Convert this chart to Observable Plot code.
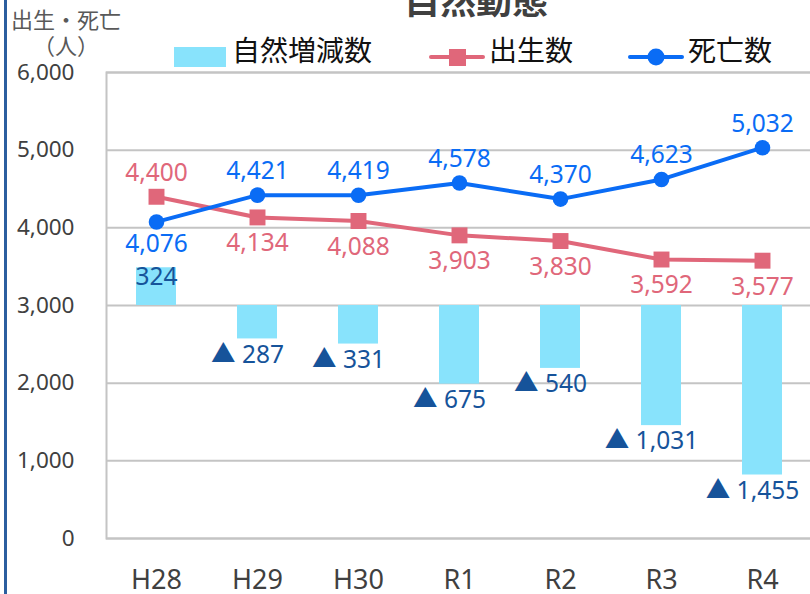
<!DOCTYPE html>
<html><head><meta charset="utf-8">
<script src="https://cdn.jsdelivr.net/npm/d3@7"></script>
<script src="https://cdn.jsdelivr.net/npm/@observablehq/plot@0.6"></script>
<style>
body{margin:0;background:#fff;}
#wrap{position:relative;width:810px;height:594px;overflow:hidden;font-family:"Noto Sans","Noto Sans CJK JP",sans-serif;}
#wrap > svg{position:absolute;left:0;top:0;}
#edge{position:absolute;left:4px;top:0;width:3px;height:594px;background:#2b5e9f;}
#over{position:absolute;left:0;top:0;pointer-events:none;}
</style></head>
<body>
<div id="wrap"><div id="edge"></div></div>
<script>
const years = ["H28","H29","H30","R1","R2","R3","R4"];
const births = [4400,4134,4088,3903,3830,3592,3577];
const deaths = [4076,4421,4419,4578,4370,4623,5032];
const natural = [324,-287,-331,-675,-540,-1031,-1455];
const yTicks = [0,1000,2000,3000,4000,5000,6000];
const primaryDomain = [0,6000];
const secondaryDomain = [-2000,2000]; // hidden axis used by the 自然増減数 bars
const birthsAbove = [true,false,false,false,false,false,false];
const deathsAbove = [false,true,true,true,true,true,true];

const toPrimary = v => primaryDomain[0] + (v - secondaryDomain[0]) / (secondaryDomain[1] - secondaryDomain[0]) * (primaryDomain[1] - primaryDomain[0]);
const fmt = d3.format(",");

const rows = years.map((y,i)=>({year:y, births:births[i], deaths:deaths[i], natural:natural[i], bAbove:birthsAbove[i], dAbove:deathsAbove[i]}));

const RED = "#e0677a", BLUE = "#0a6cf5", CYAN = "#88e3fc", NAVY = "#16539a", GRID = "#c4c4c4";
const FONT = '"Noto Sans","Noto Sans CJK JP",sans-serif';

const chart = Plot.plot({
  width: 810, height: 594,
  marginTop: 72, marginBottom: 56, marginLeft: 106, marginRight: -3,
  style: {fontFamily: FONT, background: "transparent", overflow: "visible"},
  x: {domain: years, paddingInner: 0.6, paddingOuter: 0.3, label: null},
  y: {domain: primaryDomain, label: null},
  marks: [
    Plot.gridY(yTicks, {stroke: GRID, strokeOpacity: 1, strokeWidth: 2}),
    Plot.frame({stroke: GRID, strokeWidth: 2}),
    Plot.barY(rows, {x: "year", y1: () => toPrimary(0), y2: d => toPrimary(d.natural), fill: CYAN}),
    Plot.axisY(yTicks, {tickSize: 0, tickPadding: 32, fontSize: 22.5, fill: "#404040", tickFormat: fmt, label: null}),
    Plot.axisX({tickSize: 0, tickPadding: 31, fontSize: 27, fill: "#404040", label: null}),
    Plot.line(rows, {x: "year", y: "births", stroke: RED, strokeWidth: 4}),
    Plot.dot(rows, {x: "year", y: "births", symbol: "square", r: 9, fill: RED}),
    Plot.line(rows, {x: "year", y: "deaths", stroke: BLUE, strokeWidth: 4}),
    Plot.dot(rows, {x: "year", y: "deaths", symbol: "circle", r: 7.8, fill: BLUE}),
    Plot.text(rows.filter(d=>d.bAbove), {x: "year", y: "births", text: d=>fmt(d.births), dy: -24, fill: RED, fontSize: 24.5}),
    Plot.text(rows.filter(d=>!d.bAbove), {x: "year", y: "births", text: d=>fmt(d.births), dy: 26, fill: RED, fontSize: 24.5}),
    Plot.text(rows.filter(d=>d.dAbove), {x: "year", y: "deaths", text: d=>fmt(d.deaths), dy: -24, fill: BLUE, fontSize: 24.5}),
    Plot.text(rows.filter(d=>!d.dAbove), {x: "year", y: "deaths", text: d=>fmt(d.deaths), dy: 22, fill: BLUE, fontSize: 24.5}),
    Plot.text(rows.filter(d=>d.natural>=0), {x: "year", y: d=>toPrimary(d.natural), text: d=>fmt(d.natural), dy: 9, fill: NAVY, fontSize: 24.5}),
    Plot.text(rows.filter(d=>d.natural<0), {x: "year", y: d=>toPrimary(d.natural), text: d=>"▲ " + fmt(-d.natural), dy: 16, dx: -10, fill: NAVY, fontSize: 24.5})
  ]
});
document.getElementById("wrap").appendChild(chart);

// title, axis title, legend
const over = d3.select("#wrap").append("svg").attr("id","over").attr("width",810).attr("height",594)
  .style("font-family", FONT);
over.append("text").attr("x",476).attr("y",14).attr("text-anchor","middle").attr("font-size",36).attr("font-weight","bold").attr("fill","#404040").text("自然動態");
over.append("text").attr("x",66).attr("y",28).attr("text-anchor","middle").attr("font-size",22).attr("fill","#595959").text("出生・死亡");
over.append("text").attr("x",66).attr("y",54).attr("text-anchor","middle").attr("font-size",22).attr("fill","#595959").text("（人）");
// legend
over.append("rect").attr("x",174).attr("y",47).attr("width",52).attr("height",20).attr("fill",CYAN);
over.append("text").attr("x",232).attr("y",61).attr("font-size",28).attr("fill","#111").text("自然増減数");
over.append("line").attr("x1",431).attr("x2",483).attr("y1",57).attr("y2",57).attr("stroke",RED).attr("stroke-width",4).attr("stroke-linecap","round");
over.append("rect").attr("x",449).attr("y",49).attr("width",17).attr("height",17).attr("fill",RED);
over.append("text").attr("x",489).attr("y",61).attr("font-size",28).attr("fill","#111").text("出生数");
over.append("line").attr("x1",630).attr("x2",682).attr("y1",57).attr("y2",57).attr("stroke",BLUE).attr("stroke-width",4).attr("stroke-linecap","round");
over.append("circle").attr("cx",656).attr("cy",57).attr("r",8.5).attr("fill",BLUE);
over.append("text").attr("x",688).attr("y",61).attr("font-size",28).attr("fill","#111").text("死亡数");
</script>
</body></html>
